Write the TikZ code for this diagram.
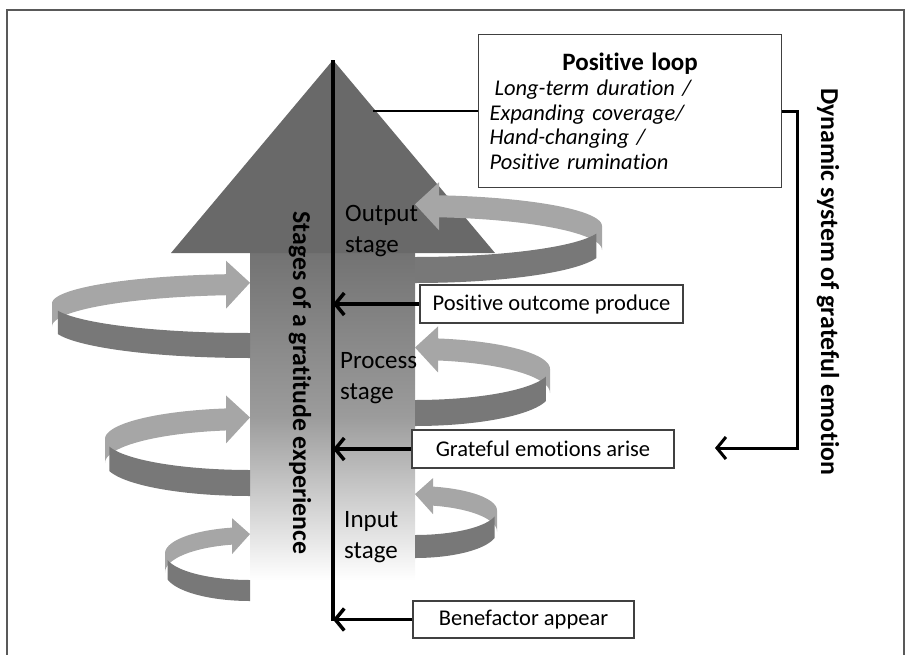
\documentclass[tikz,border=0pt]{standalone}
\usepackage{fontspec}
\setmainfont{Carlito}[Ligatures=NoCommon]
\usetikzlibrary{arrows.meta}
\definecolor{bandlight}{gray}{0.65}
\definecolor{banddark}{gray}{0.47}
\definecolor{headgray}{gray}{0.41}
\definecolor{shafttop}{gray}{0.45}
\definecolor{shaftmid}{gray}{0.61}
\definecolor{framegray}{gray}{0.35}
% ribbon loop round the big arrow: [side](centre x,centre y)(a:b:height:head)
\def\ribbon[#1](#2,#3)(#4:#5:#6:#7){%
  \pgfmathsetmacro\rtheta{180+acos(#7/#4)}
  \pgfmathsetmacro\rmid{#3+(#6)/2+(#5+1)*sin(\rtheta)}
  \fill[bandlight] plot[domain=180:\rtheta,samples=40] ({#2+(#1)*#4*cos(\x)},{#3+#5*sin(\x)})
    -- plot[domain=\rtheta:180,samples=40] ({#2+(#1)*#4*cos(\x)},{#3+#6+(#5+2)*sin(\x)}) -- cycle;
  \fill[bandlight] ({#2-(#1)*#7},{\rmid-#7}) -- ({#2},{\rmid-2}) -- ({#2-(#1)*#7},{\rmid+#7}) -- cycle;
  \fill[banddark] plot[domain=166:90,samples=40] ({#2+(#1)*#4*cos(\x)},{#3+#5*sin(\x)})
    -- plot[domain=90:166,samples=40] ({#2+(#1)*#4*cos(\x)},{#3+#6+(#5+2)*sin(\x)}) -- cycle;
}
\tikzset{
  infobox/.style={draw=black!75, line width=1.2pt, fill=white, inner sep=0pt,
    font=\fontsize{22.5}{24.5}\selectfont},
  stagetext/.style={anchor=west, align=left, inner sep=0pt, font=\fontsize{25}{31}\selectfont},
  sidetext/.style={rotate=-90, inner sep=0pt, font=\fontsize{25.8}{30}\selectfont\bfseries},
  stagearrow/.style={line width=3.5pt, -{Straight Barb[length=9pt,width=22pt]}},
}

\begin{document}
\begin{tikzpicture}[x=1pt,y=-1pt]
			%%%%% START %%%%%
			\useasboundingbox (0,0) rectangle (911,654);
			\draw[framegray, line width=1.5pt] (7,660) -- (7,10) -- (904,10) -- (904,660);
			
			% big arrow
			\shade[top color=shafttop, bottom color=white, middle color=shaftmid] (250,253) rectangle (415,580);
			\fill[headgray] (171,253) -- (333,60) -- (495,253) -- cycle;
			
			% loops, left then right
			\ribbon[1](250,303.5)(198:29.5:23:24)
			\ribbon[1](250,439)(145:31:24:24)
			\ribbon[1](250,553.5)(85:26.5:19:18)
			\ribbon[-1](415,226)(187:31:24:24)
			\ribbon[-1](415,369)(135:31:24:23)
			\ribbon[-1](415,510.5)(82:24.5:21:18)
			
			\coordinate (tip) at (333,60);
			\coordinate (bottom) at (333,621);
			\coordinate (loopend) at (373,111);
			\coordinate (dyn) at (715,448);
			\draw[line width=4pt] (tip) -- (bottom);
			
			\node[infobox, minimum height=153pt, text width=281pt, inner xsep=11pt, align=left, anchor=north west] (loopbox) at (478,34)
			  {\makebox[\linewidth]{\fontsize{25}{28}\selectfont\bfseries Positive loop}\\[1pt]
			   \itshape\hspace*{5pt}Long-term duration /\\ Expanding coverage/\\ Hand-changing /\\ Positive rumination};
			\node[infobox, minimum width=263pt, minimum height=38pt] (outcomebox) at (551.5,304) {Positive outcome produce};
			\node[infobox, minimum width=262pt, minimum height=38pt] (arisebox) at (543,449) {Grateful emotions arise};
			\node[infobox, minimum width=221pt, minimum height=37pt] (benefactorbox) at (523.5,619.5) {Benefactor appear};
			
			\draw[line width=2pt] (loopbox.west) -- (loopbox.west -| loopend);
			\draw[line width=3pt, -{Straight Barb[length=9pt,width=22pt]}] (loopbox.east) -- ++(15,0) |- (dyn);
			\draw[stagearrow] (outcomebox.west) -- (outcomebox.west -| tip);
			\draw[stagearrow] (arisebox.west) -- (arisebox.west -| tip);
			\draw[stagearrow] (benefactorbox.west) -- (benefactorbox.west -| tip);
			
			\node[stagetext] (output) at (345,231) {Output\\stage};
			\node[stagetext] (process) at (340,378) {Process\\stage};
			\node[stagetext] (input) at (344,537) {Input\\stage};
			\node[sidetext] (stages) at (300,383) {Stages of a gratitude experience};
			\node[sidetext] (dynamic) at (828,282) {Dynamic system of grateful emotion};
			%%%%% END %%%%%
\end{tikzpicture}
\end{document}
